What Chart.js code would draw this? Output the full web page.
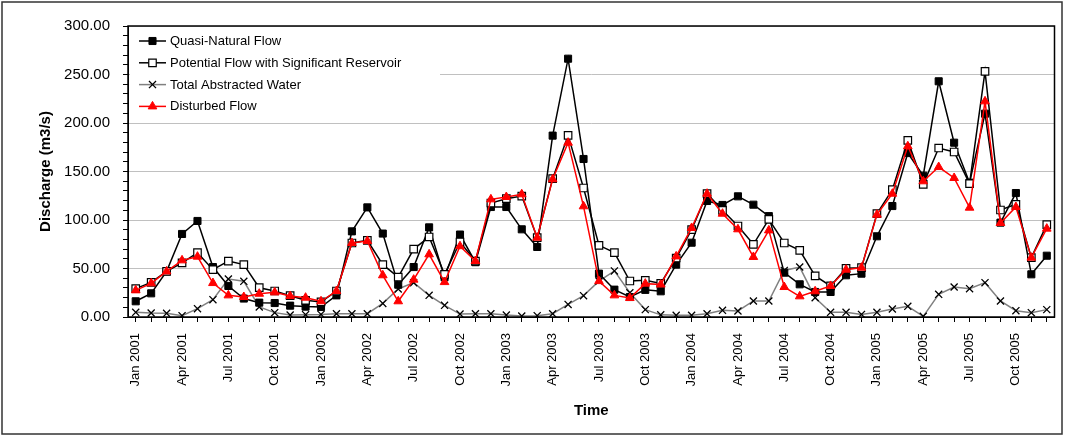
<!DOCTYPE html>
<html lang="en">
<head>
<meta charset="UTF-8">
<title>Discharge - Time</title>
<script src="https://cdn.jsdelivr.net/npm/chart.js"></script>
<style>
  body { margin: 0; background: #fff; }
  canvas { display: block; }
</style>
</head>
<body>
<canvas id="flowChart" width="1066" height="437"></canvas>
<script>
// categories: one per month, Jan 2001 .. Dec 2005
const years = [2001, 2002, 2003, 2004, 2005];
const monthNames = ["Jan", "Feb", "Mar", "Apr", "May", "Jun", "Jul", "Aug", "Sep", "Oct", "Nov", "Dec"];
const months = [];
years.forEach(y => monthNames.forEach(m => months.push(m + " " + y)));

// series values (m3/s)
const quasiNatural = [
  16.2, 24.4, 47, 85.6, 99, 51.5, 32, 19, 14.8, 14.4, 11.7, 10.7,
  10.3, 22.3, 88.3, 113, 86, 33.3, 51.5, 92.4, 41, 85, 56.5, 113.4,
  113.4, 90.4, 72.2, 187, 266.3, 162.9, 44.7, 28.2, 20.6, 28, 26.5, 54,
  76.6, 119.6, 115.5, 124.4, 115.8, 104, 45.7, 33.7, 25.8, 25.8, 43, 44.7,
  83.2, 114.4, 169, 145.7, 243, 179.7, 138.5, 209.6, 97.3, 127.8, 44, 63.2
];
const potentialFlow = [
  29.2, 35.7, 47, 55.7, 66.3, 48.8, 57.7, 54, 30.2, 26.8, 22, 17.2,
  15.5, 26.8, 76.3, 79, 54, 41.2, 70, 82.5, 44, 77.3, 57.7, 117.5,
  122, 124.7, 81.8, 142.6, 187.3, 133, 73.9, 66.3, 37.1, 37.8, 34.6, 60.8,
  90, 127.1, 110, 93.8, 74.9, 100.7, 76.3, 68.7, 42.3, 32, 50.2, 50.9,
  106.5, 131.3, 182.1, 136.8, 174.2, 170.1, 137.5, 253.3, 110.3, 116.2, 61.2, 95.2
];
const abstracted = [
  4.8, 4.1, 3.8, 1.4, 8.6, 17.9, 39.2, 36.8, 10.3, 4.5, 2, 2.4,
  2.7, 3.4, 3.4, 3.4, 14, 28.9, 35.4, 22.3, 12, 3, 3.4, 3.4,
  2, 1, 1.4, 3.4, 13, 22, 37, 47.5, 25, 7.6, 2.2, 1.7,
  1.7, 3.4, 6.9, 6.2, 16.5, 16.5, 48, 51.5, 19.9, 4.8, 4.8, 2.7,
  4.8, 8.2, 11, 0.7, 23.4, 30.9, 29.2, 35.4, 16.5, 6.5, 4.5, 7.6
];
const disturbed = [
  27.5, 34.7, 47, 58.4, 62.2, 35, 22.3, 20.6, 24, 25.4, 21.6, 19.9,
  16.2, 26.8, 76.3, 78.4, 43, 16.2, 38.5, 64.6, 36, 73, 57.7, 121.3,
  123.7, 126.5, 81.8, 142, 179.7, 114.1, 37, 22.3, 19.6, 34.4, 33.5, 62.5,
  91.8, 127.1, 106.5, 90.4, 61.9, 89.3, 30.9, 21.3, 26.5, 32, 48.8, 50.9,
  105.5, 127.1, 176, 139.9, 154.6, 143.3, 112.7, 222.3, 96.9, 113.4, 61.2, 91.1
];

// axis ticks
const yMin = 0, yMax = 300, yMajor = 50, yMinor = 10;
const labelEvery = 3;

Chart.defaults.font.family = '"Liberation Sans", Arial, sans-serif';
Chart.defaults.color = "#000";

// legend drawn inside the plot, top left, on a white box
const insideLegend = {
  id: "insideLegend",
  beforeDatasetsDraw(chart) {
    const ctx = chart.ctx;
    ctx.save();
    ctx.fillStyle = "#fff";
    ctx.fillRect(130, 28, 310, 90);
    ctx.font = '13px "Liberation Sans", Arial, sans-serif';
    ctx.textBaseline = "middle";
    chart.data.datasets.forEach((ds, i) => {
      const y = 41 + i * 21.8;
      ctx.strokeStyle = ds.borderColor;
      ctx.lineWidth = 1.5;
      ctx.beginPath();
      ctx.moveTo(139, y);
      ctx.lineTo(166, y);
      ctx.stroke();
      ctx.fillStyle = ds.pointBackgroundColor;
      ctx.strokeStyle = ds.pointBorderColor;
      ctx.lineWidth = ds.pointBorderWidth;
      Chart.helpers.drawPoint(ctx, {
        pointStyle: ds.pointStyle, rotation: 0,
        radius: ds.pointRadius, borderWidth: ds.pointBorderWidth
      }, 152.5, y);
      ctx.fillStyle = "#000";
      ctx.fillText(ds.label, 170, y + 0.5);
    });
    ctx.restore();
  }
};

// white page, outer frame and box round the plot
const frames = {
  id: "frames",
  beforeDraw(chart) {
    const ctx = chart.ctx;
    ctx.save();
    ctx.fillStyle = "#fff";
    ctx.fillRect(0, 0, chart.width, chart.height);
    ctx.restore();
  },
  afterDraw(chart) {
    const ctx = chart.ctx;
    const a = chart.chartArea;
    ctx.save();
    ctx.strokeStyle = "#000";
    ctx.lineWidth = 1.5;
    ctx.strokeRect(a.left, a.top, a.right - a.left, a.bottom - a.top);
    ctx.strokeStyle = "#333";
    ctx.strokeRect(2, 2, 1060, 432);
    ctx.restore();
  }
};

new Chart(document.getElementById("flowChart"), {
  type: "line",
  data: {
    labels: months,
    datasets: [{
      label: "Quasi-Natural Flow",
      data: quasiNatural,
      borderColor: "#000",
      borderWidth: 1.5,
      pointStyle: "rect",
      pointRadius: 5,
      pointBorderWidth: 1,
      pointBackgroundColor: "#000",
      pointBorderColor: "#000",
      order: 3
    }, {
      label: "Potential Flow with Significant Reservoir",
      data: potentialFlow,
      borderColor: "#000",
      borderWidth: 1.5,
      pointStyle: "rect",
      pointRadius: 5.3,
      pointBorderWidth: 1.2,
      pointBackgroundColor: "#fff",
      pointBorderColor: "#000",
      order: 2
    }, {
      label: "Total Abstracted Water",
      data: abstracted,
      borderColor: "#808080",
      borderWidth: 1.5,
      pointStyle: "crossRot",
      pointRadius: 5,
      pointBorderWidth: 1.3,
      pointBackgroundColor: "#000",
      pointBorderColor: "#000",
      order: 4
    }, {
      label: "Disturbed Flow",
      data: disturbed,
      borderColor: "#ff0000",
      borderWidth: 1.5,
      pointStyle: "triangle",
      pointRadius: 5,
      pointBorderWidth: 1,
      pointBackgroundColor: "#ff0000",
      pointBorderColor: "#ff0000",
      order: 1
    }]
  },
  options: {
    responsive: false,
    animation: false,
    layout: { padding: { left: 37, top: 26, right: 11.5, bottom: 17 } },
    plugins: {
      legend: { display: false },
      tooltip: { enabled: false }
    },
    scales: {
      x: {
        offset: true,
        grid: { offset: false, drawOnChartArea: false, tickLength: 5, color: "#000" },
        border: { color: "#000", width: 1 },
        ticks: {
          autoSkip: false,
          minRotation: 90,
          maxRotation: 90,
          padding: 11,
          font: { size: 13 },
          callback: function (v, i) { return i % labelEvery === 0 ? this.getLabelForValue(v) : ""; }
        },
        title: { display: true, text: "Time", font: { size: 15, weight: "bold" }, padding: 0 },
        afterFit(s) {
          s.height = 103;
          s.paddingLeft = 0;
          s.paddingRight = 0;
        }
      },
      y: {
        min: yMin,
        max: yMax,
        grid: {
          color: c => (c.tick && c.tick.value % yMajor === 0) ? "#c0c0c0" : "rgba(0,0,0,0)",
          tickColor: "#000",
          tickLength: 5,
          lineWidth: 1
        },
        border: { color: "#000", width: 1 },
        ticks: {
          stepSize: yMinor,
          autoSkip: false,
          padding: 13,
          font: { size: 15 },
          callback: v => v % yMajor === 0 ? v.toFixed(2) : ""
        },
        title: { display: true, text: "Discharge (m3/s)", font: { size: 15, weight: "bold" }, padding: 0 },
        afterFit(s) { s.width = 91; }
      }
    }
  },
  plugins: [insideLegend, frames]
});
</script>
</body>
</html>
